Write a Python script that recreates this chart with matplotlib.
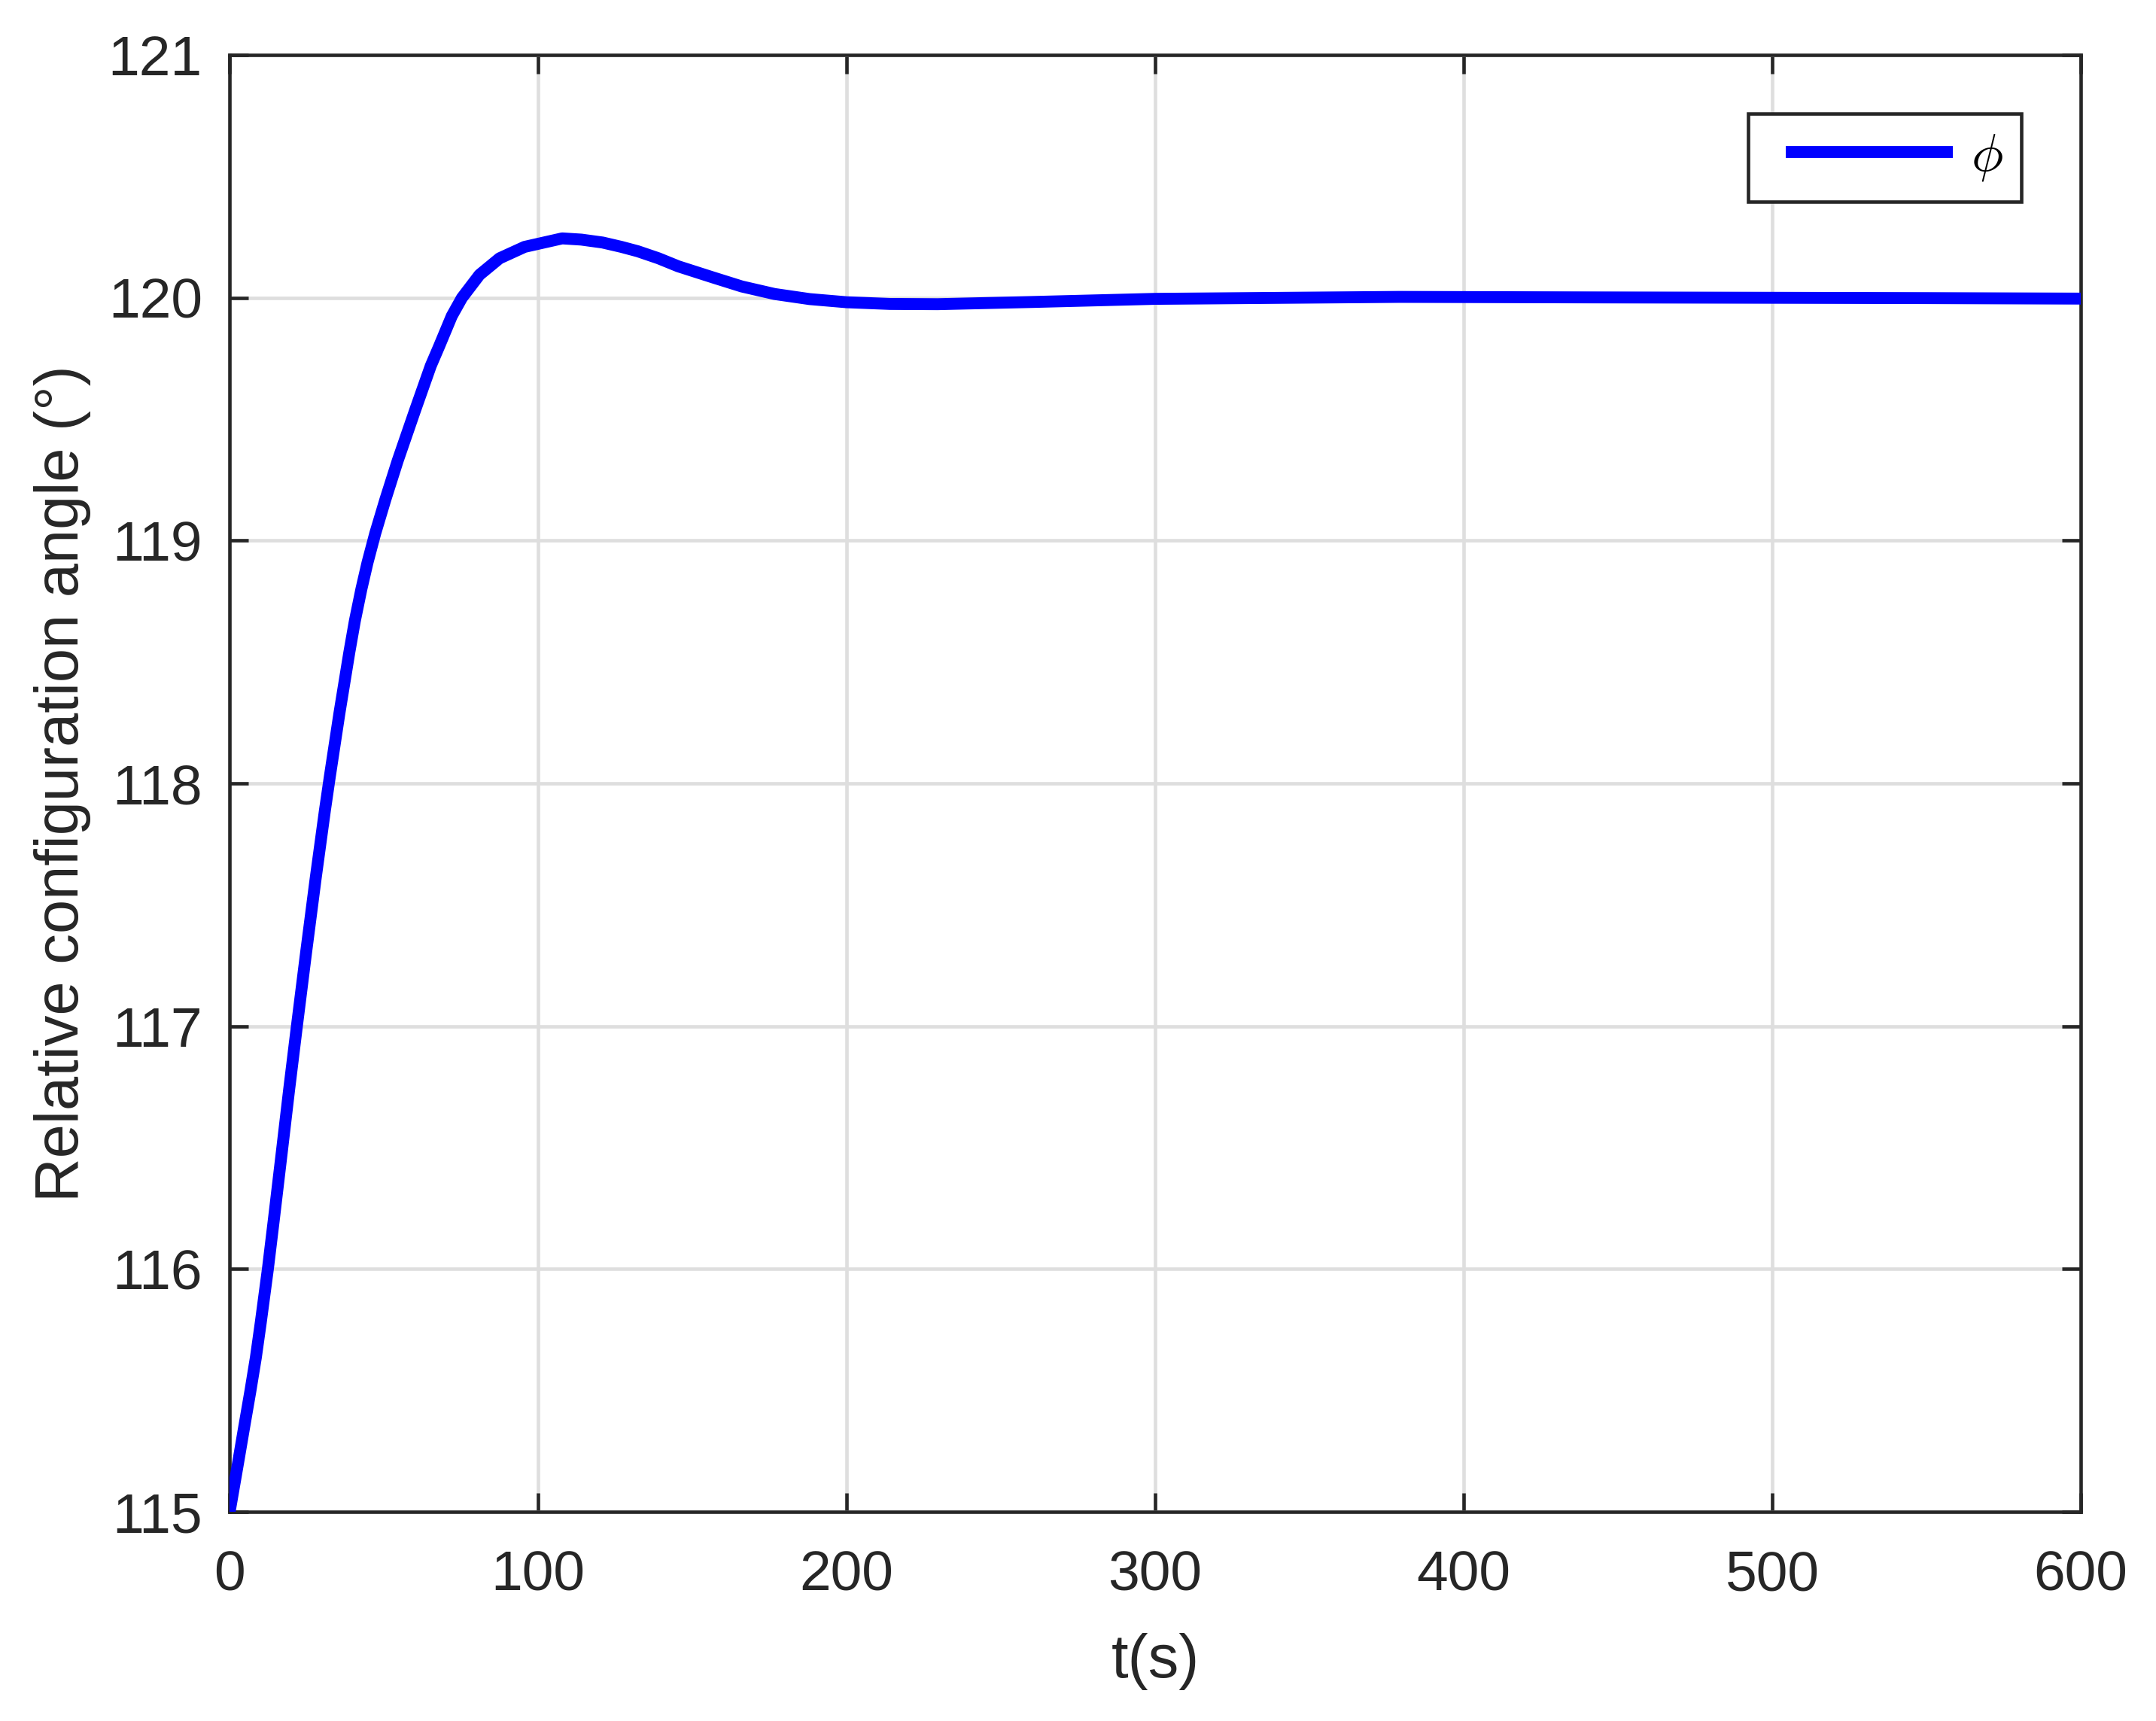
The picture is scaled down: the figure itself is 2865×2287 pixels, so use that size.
import numpy as np
import matplotlib
matplotlib.use("Agg")
import matplotlib.pyplot as plt

# values
t_s = [0, 2.8, 4.7, 6.7, 8.5, 10.1, 12.4, 14.3, 15.6, 16.9, 18.1, 19.3, 21.8,
       24.8, 27.9, 30.9, 32.5, 35.6, 38.8, 40.6, 42.7, 44.7, 47.2, 50.5, 54.5,
       60.2, 65.2, 67.9, 72.0, 75.3, 81.0, 87.5, 95.6, 107.8, 114, 120.9, 127,
       132.3, 139, 145.4, 156.7, 166, 176.6, 188, 200, 214, 229.5, 260, 300,
       379, 440, 550, 600]
phi_deg = [115.0, 115.206, 115.348, 115.495, 115.635, 115.78, 116.0, 116.2,
           116.34, 116.48, 116.61, 116.74, 117.0, 117.305, 117.61, 117.89, 118.03,
           118.29, 118.54, 118.67, 118.80, 118.91, 119.03, 119.17, 119.33, 119.54,
           119.72, 119.80, 119.925, 120.0, 120.095, 120.163, 120.21, 120.245,
           120.24, 120.228, 120.21, 120.192, 120.163, 120.13, 120.084, 120.047,
           120.016, 119.995, 119.982, 119.975, 119.974, 119.983, 119.996, 120.004,
           120.002, 119.999, 119.997]
x_ticks = [0, 100, 200, 300, 400, 500, 600]
y_ticks = [115, 116, 117, 118, 119, 120, 121]

plt.rcParams['font.family'] = ['Liberation Sans', 'DejaVu Sans']
plt.rcParams['mathtext.fontset'] = 'cm'

dark = '#262626'
fig = plt.figure(figsize=(2865 / 300, 2287 / 300), dpi=300)
ax = fig.add_axes([0.1065, 0.1215, 0.8586, 0.8465])

ax.plot(t_s, phi_deg, color='#0000ff', linewidth=3.8, label=r'$\phi$',
        solid_capstyle='butt', solid_joinstyle='round', zorder=3)

ax.set_xlim(0, 600)
ax.set_ylim(115, 121)
ax.set_xticks(x_ticks)
ax.set_yticks(y_ticks)
ax.grid(True, color='#dedede', linewidth=1.1)
ax.set_axisbelow(True)

for side in ax.spines.values():
    side.set_color(dark)
    side.set_linewidth(1.1)
ax.tick_params(direction='in', length=6, width=1.1, color=dark, labelcolor=dark,
               labelsize=18, top=True, right=True)
ax.tick_params(axis='x', pad=12)
ax.tick_params(axis='y', pad=8.7)

ax.set_xlabel('t(s)', fontsize=19.5, color=dark, labelpad=10)
ax.set_ylabel('Relative configuration angle (°)', fontsize=19.5, color=dark,
              labelpad=5.5)

leg = ax.legend(loc='upper right', bbox_to_anchor=(0.968, 0.960), fontsize=17,
                handlelength=3.5, fancybox=False, framealpha=1, borderpad=0.35,
                handletextpad=0.33, borderaxespad=0)
leg.get_frame().set_edgecolor(dark)
leg.get_frame().set_linewidth(1.1)
# MATLAB-style legend: short sample line with some space on its left
for ln in leg.get_lines():
    xd = np.asarray(ln.get_xdata(), dtype=float)
    if len(xd) > 1:
        ln.set_xdata(np.linspace(xd[0] + 6.2, xd[-1], len(xd)))

fig.savefig('out.png', dpi=300)
